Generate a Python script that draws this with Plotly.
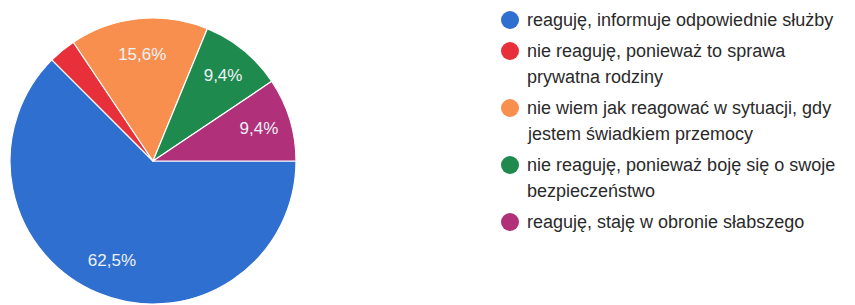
import plotly.graph_objects as go

labels = [
    "reaguję, informuje odpowiednie służby",
    "nie reaguję, ponieważ to sprawa<br>prywatna rodziny",
    "nie wiem jak reagować w sytuacji, gdy<br>jestem świadkiem przemocy",
    "nie reaguję, ponieważ boję się o swoje<br>bezpieczeństwo",
    "reaguję, staję w obronie słabszego",
]
values = [62.5, 3.1, 15.6, 9.4, 9.4]
colors = ["#2f6fcf", "#e8303a", "#f98f4e", "#1e8a4e", "#b0307a"]

W, H = 855, 305
FONT = "Liberation Sans, Arial, sans-serif"
slice_text = [("%.1f%%" % v).replace(".", ",") if v >= 5 else "" for v in values]
dom = dict(x=[10 / W, 296 / W], y=[1 / H, 287 / H])

fig = go.Figure()
# the coloured pie
fig.add_trace(go.Pie(
    labels=[l.replace("<br>", " ") for l in labels],
    values=values,
    sort=False,
    direction="clockwise",
    rotation=90,
    marker=dict(colors=colors, line=dict(color="white", width=1.2)),
    textinfo="none",
    showlegend=False,
    hoverinfo="label+percent",
    domain=dom,
))
# transparent ring carrying the percentage labels toward the rim
fig.add_trace(go.Pie(
    labels=[l.replace("<br>", " ") for l in labels],
    values=values,
    sort=False,
    direction="clockwise",
    rotation=90,
    hole=0.5,
    marker=dict(colors=["rgba(0,0,0,0)"] * len(values), line=dict(width=0)),
    text=slice_text,
    textinfo="text",
    textposition="inside",
    insidetextorientation="horizontal",
    insidetextfont=dict(color="#eef2f8", size=17, family=FONT),
    showlegend=False,
    hoverinfo="skip",
    domain=dom,
))

# legend drawn as annotations + circle shapes
annotations = []
shapes = []
line_h = 26
item_gap = 31
y = 20
for lab, col in zip(labels, colors):
    lines = lab.split("<br>")
    shapes.append(dict(
        type="circle", xref="paper", yref="paper",
        xsizemode="pixel", ysizemode="pixel",
        xanchor=510 / W, yanchor=1 - y / H,
        x0=-9, x1=9, y0=-9, y1=9,
        fillcolor=col, line=dict(width=0),
    ))
    for i, ln in enumerate(lines):
        annotations.append(dict(
            x=525 / W, y=1 - (y + i * line_h) / H, xref="paper", yref="paper",
            text=ln, showarrow=False, xanchor="left", yanchor="middle",
            font=dict(size=18, color="#2a2a2a", family=FONT),
        ))
    y += (len(lines) - 1) * line_h + item_gap

fig.update_layout(
    width=W, height=H,
    margin=dict(l=0, r=0, t=0, b=0),
    paper_bgcolor="white", plot_bgcolor="white",
    annotations=annotations, shapes=shapes,
)
fig.write_html("out.html", config={"displayModeBar": False},
               post_script="document.body.style.margin='0';")
